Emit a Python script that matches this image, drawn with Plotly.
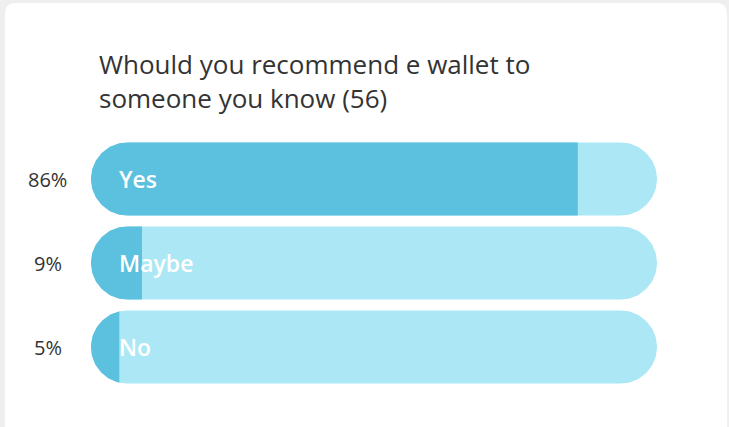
import numpy as np
import plotly.graph_objects as go

categories = ["Yes", "Maybe", "No"]
percents = [86, 9, 5]
pct_labels = ["86%", "9%", "5%"]
title_lines = ["Whould you recommend e wallet to", "someone you know (56)"]

DARK = "#5BC1DE"
LIGHT = "#ACE7F5"
TEXT = "#333333"

W, H = 729, 427
ML, MR, MT, MB = 91, 72, 137, 38
PW = W - ML - MR
PH = H - MT - MB
UNIT = PH / 3.0
R_PX = 36.5
rx = R_PX / PW
hy = R_PX / UNIT


def pill(yc):
    pts = []
    for t in np.linspace(np.pi / 2, 3 * np.pi / 2, 60):
        pts.append((rx + rx * np.cos(t), yc - hy * np.sin(t)))
    for t in np.linspace(-np.pi / 2, np.pi / 2, 60):
        pts.append((1 - rx + rx * np.cos(t), yc - hy * np.sin(t)))
    return pts


def clip(poly, xmax):
    out = []
    n = len(poly)
    for i in range(n):
        a = poly[i]
        b = poly[(i + 1) % n]
        ina = a[0] <= xmax
        inb = b[0] <= xmax
        if ina:
            out.append(a)
        if ina != inb:
            t = (xmax - a[0]) / (b[0] - a[0])
            out.append((xmax, a[1] + t * (b[1] - a[1])))
    return out


fig = go.Figure()
for i, (cat, p) in enumerate(zip(categories, percents)):
    full = pill(i)
    xs, ys = zip(*full)
    fig.add_trace(go.Scatter(x=list(xs) + [xs[0]], y=list(ys) + [ys[0]], mode="lines",
                             fill="toself", fillcolor=LIGHT, line=dict(width=0, color=LIGHT),
                             hoverinfo="skip", showlegend=False))
    part = clip(full, p / 100.0)
    xs, ys = zip(*part)
    fig.add_trace(go.Scatter(x=list(xs) + [xs[0]], y=list(ys) + [ys[0]], mode="lines",
                             fill="toself", fillcolor=DARK, line=dict(width=0, color=DARK),
                             hoverinfo="skip", showlegend=False))
    fig.add_annotation(x=0, y=i, xref="x", yref="y", text=cat, showarrow=False,
                       xanchor="left", xshift=26, yshift=0,
                       font=dict(family="Open Sans", size=23, color="white", weight=600))
    fig.add_annotation(x=(47.5 - ML) / PW, y=i, xref="paper", yref="y", text=pct_labels[i],
                       showarrow=False, xanchor="center",
                       font=dict(family="Open Sans", size=20, color=TEXT))


def px2paper(px, py):
    return (px - ML) / PW, (H - MB - py) / PH


# card background
x0, y0, x1, y1, r = 5, 3, 727, 440, 11
pts = [
    ("M", x0, y1), ("L", x0, y0 + r), ("Q", x0, y0, x0 + r, y0), ("L", x1 - r, y0),
    ("Q", x1, y0, x1, y0 + r), ("L", x1, y1),
]
path = ""
for seg in pts:
    if seg[0] == "Q":
        a = px2paper(seg[1], seg[2])
        b = px2paper(seg[3], seg[4])
        path += f"Q{a[0]:.5f},{a[1]:.5f} {b[0]:.5f},{b[1]:.5f} "
    else:
        a = px2paper(seg[1], seg[2])
        path += f"{seg[0]}{a[0]:.5f},{a[1]:.5f} "
path += "Z"
fig.add_shape(type="path", path=path, xref="paper", yref="paper", layer="below",
              fillcolor="white", line=dict(width=0))

tx, ty = px2paper(97, 118)
fig.add_annotation(x=tx, y=ty, xref="paper", yref="paper",
                   text="<br>".join(title_lines), showarrow=False, xanchor="left",
                   yanchor="bottom", align="left",
                   font=dict(family="Open Sans", size=26, color=TEXT))

fig.update_layout(
    width=W, height=H,
    margin=dict(l=ML, r=MR, t=MT, b=MB, pad=0),
    paper_bgcolor="#EFEFEF", plot_bgcolor="rgba(0,0,0,0)",
    xaxis=dict(range=[0, 1], visible=False, fixedrange=True),
    yaxis=dict(range=[2.5, -0.5], visible=False, fixedrange=True),
    showlegend=False,
)
fig.write_html("out.html")
